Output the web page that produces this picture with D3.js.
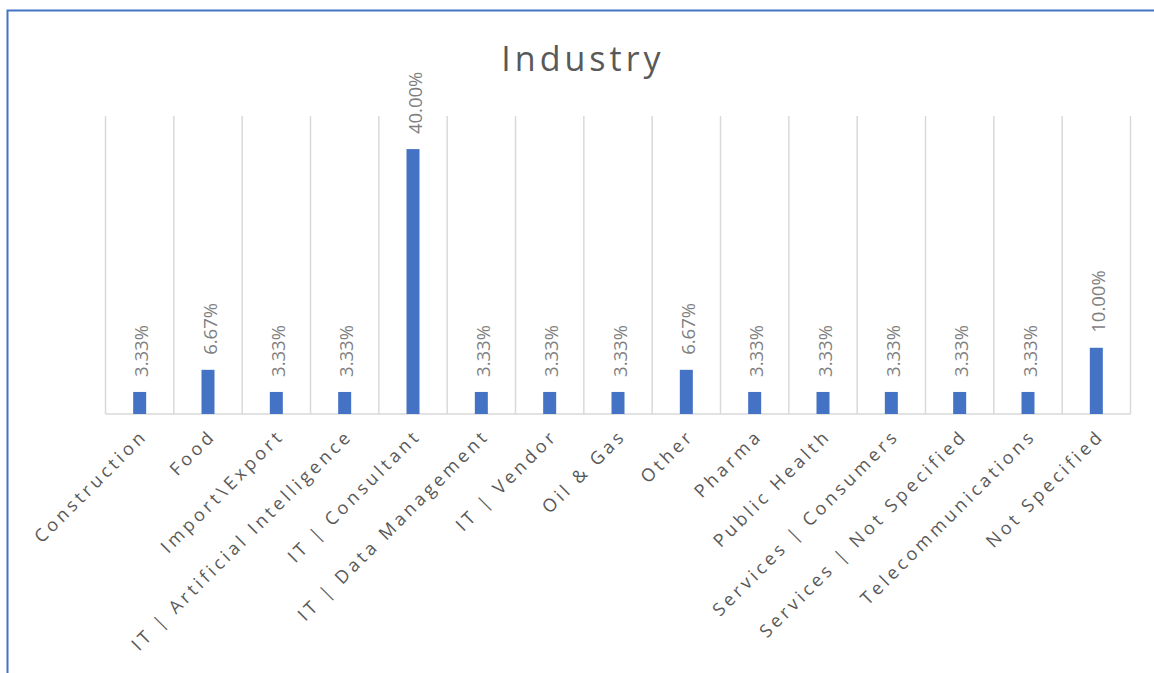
<!DOCTYPE html>
<html>
<head>
<meta charset="utf-8">
<script src="https://cdn.jsdelivr.net/npm/d3@7"></script>
<style>
  html, body { margin: 0; padding: 0; background: #fff; }
  svg { display: block; }
</style>
</head>
<body>
<svg id="chart" width="1154" height="673"></svg>
<script>
// Share of respondents by industry
const categories = [
  "Construction", "Food", "Import\\Export", "IT | Artificial Intelligence",
  "IT | Consultant", "IT | Data Management", "IT | Vendor", "Oil & Gas",
  "Other", "Pharma", "Public Health", "Services | Consumers",
  "Services | Not Specified", "Telecommunications", "Not Specified"
];
const shares = [
  0.0333, 0.0667, 0.0333, 0.0333, 0.40, 0.0333, 0.0333, 0.0333,
  0.0667, 0.0333, 0.0333, 0.0333, 0.0333, 0.0333, 0.10
];
const valueLabels = [
  "3.33%", "6.67%", "3.33%", "3.33%", "40.00%", "3.33%", "3.33%", "3.33%",
  "6.67%", "3.33%", "3.33%", "3.33%", "3.33%", "3.33%", "10.00%"
];
const title = "Industry";

const svg = d3.select("#chart");
const font = "'Open Sans', 'Noto Sans', sans-serif";

// outer frame (left and top edges)
svg.append("path")
  .attr("d", "M7.5,673 L7.5,10.5 L1154,10.5")
  .attr("fill", "none")
  .attr("stroke", "#4472c4")
  .attr("stroke-width", 2);

const plot = { left: 105.5, right: 1130.5, top: 116, bottom: 414 };

const x = d3.scaleBand()
  .domain(categories)
  .range([plot.left, plot.right])
  .padding(0);

const y = d3.scaleLinear()
  .domain([0, 0.45])
  .range([plot.bottom, plot.top]);

// vertical gridlines at category boundaries
const bounds = categories.map(c => x(c)).concat([plot.right]);
svg.append("g")
  .selectAll("line")
  .data(bounds)
  .join("line")
  .attr("x1", d => d).attr("x2", d => d)
  .attr("y1", plot.top).attr("y2", plot.bottom)
  .attr("stroke", "#d9d9d9")
  .attr("stroke-width", 1.5);

// baseline
svg.append("line")
  .attr("x1", plot.left).attr("x2", plot.right)
  .attr("y1", plot.bottom).attr("y2", plot.bottom)
  .attr("stroke", "#d9d9d9")
  .attr("stroke-width", 1.5);

// bars
const barW = 13;
const data = categories.map((c, i) => ({ c, v: shares[i], label: valueLabels[i] }));
svg.append("g")
  .selectAll("rect")
  .data(data)
  .join("rect")
  .attr("x", d => x(d.c) + x.bandwidth() / 2 - barW / 2)
  .attr("y", d => y(d.v))
  .attr("width", barW)
  .attr("height", d => y(0) - y(d.v))
  .attr("fill", "#4472c4");

// value labels, rotated vertical above each bar
svg.append("g")
  .selectAll("text")
  .data(data)
  .join("text")
  .attr("transform", d => `translate(${x(d.c) + x.bandwidth() / 2 + 8.5},${y(d.v) - 15}) rotate(-90)`)
  .attr("text-anchor", "start")
  .attr("font-family", font)
  .attr("font-size", 18.5)
  .attr("fill", "#7f7f7f")
  .text(d => d.label);

// category labels, rotated 45 degrees
svg.append("g")
  .selectAll("text")
  .data(categories)
  .join("text")
  .attr("transform", c => `translate(${x(c) + x.bandwidth() / 2 + 9},${plot.bottom + 23}) rotate(-45)`)
  .attr("text-anchor", "end")
  .attr("font-family", font)
  .attr("font-size", 18)
  .attr("letter-spacing", 3.6)
  .attr("fill", "#595959")
  .text(c => c);

// title
svg.append("text")
  .attr("x", 583)
  .attr("y", 71)
  .attr("text-anchor", "middle")
  .attr("font-family", font)
  .attr("font-size", 34)
  .attr("letter-spacing", 4)
  .attr("fill", "#595959")
  .text(title);
</script>
</body>
</html>
